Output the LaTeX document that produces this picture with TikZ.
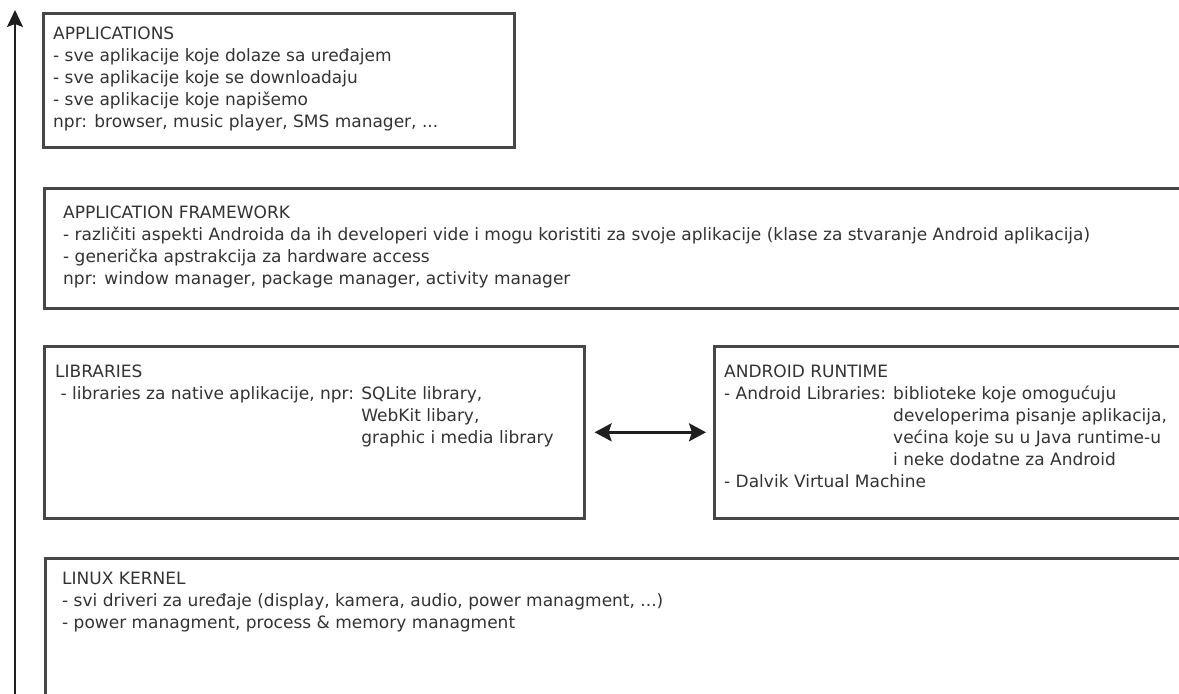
\documentclass[tikz,border=0pt]{standalone}
\usepackage{fontspec}
\setmainfont{DejaVu Sans}
\usetikzlibrary{arrows.meta}
\begin{document}
\begin{tikzpicture}[x=1pt,y=-1pt,
  layer/.style={draw=black!72, line width=2.6pt, inner sep=0pt, anchor=north west},
  txt/.style={anchor=base west, inner sep=0pt, text=black!80, font=\fontsize{17}{22}\selectfont},
  uparrow/.style={draw=black!88, line width=2pt, -{Stealth[length=17pt,width=16pt,inset=3pt]}},
  biarrow/.style={draw=black!88, line width=2.6pt, {Stealth[length=17pt,width=18pt,inset=3pt]}-{Stealth[length=17pt,width=18pt,inset=3pt]}}]
\useasboundingbox (0,0) rectangle (1179,694);
\clip (0,0) rectangle (1179,694);
\fill[white] (0,0) rectangle (1179,694);

% layer boxes
\node[layer, minimum width=471pt, minimum height=134pt] (apps) at (42,12) {};
\node[layer, minimum width=1152pt, minimum height=120pt] (fw) at (43,187) {};
\node[layer, minimum width=540pt, minimum height=172pt] (lib) at (43,345) {};
\node[layer, minimum width=482pt, minimum height=172pt] (rt) at (713,345) {};
\node[layer, minimum width=1151pt, minimum height=170pt] (lk) at (44,557) {};

% texts
\node[txt] (appsT) at (53,39) {\begin{tabular}[t]{@{}l@{}}
APPLICATIONS\\
- sve aplikacije koje dolaze sa uređajem\\
- sve aplikacije koje se downloadaju\\
- sve aplikacije koje napišemo\\
npr: browser, music player, SMS manager, ...
\end{tabular}};

\node[txt] (fwT) at (63,218) {\begin{tabular}[t]{@{}l@{}}
APPLICATION FRAMEWORK\\
- različiti aspekti Androida da ih developeri vide i mogu koristiti za svoje aplikacije (klase za stvaranje Android aplikacija)\\
- generička apstrakcija za hardware access\\
npr: window manager, package manager, activity manager
\end{tabular}};

\node[txt] (libT) at (55,377) {\begin{tabular}[t]{@{}l@{}}
LIBRARIES\\
\ - libraries za native aplikacije, npr: SQLite library,\\
\hphantom{\ - libraries za native aplikacije, npr: }WebKit libary,\\
\hphantom{\ - libraries za native aplikacije, npr: }graphic i media library
\end{tabular}};

\node[txt] (rtT) at (724,377) {\begin{tabular}[t]{@{}l@{}}
ANDROID RUNTIME\\
- Android Libraries: biblioteke koje omogućuju\\
\hphantom{- Android Libraries: }developerima pisanje aplikacija,\\
\hphantom{- Android Libraries: }većina koje su u Java runtime-u\\
\hphantom{- Android Libraries: }i neke dodatne za Android\\
- Dalvik Virtual Machine
\end{tabular}};

\node[txt] (lkT) at (62,584) {\begin{tabular}[t]{@{}l@{}}
LINUX KERNEL\\
- svi driveri za uređaje (display, kamera, audio, power managment, ...)\\
- power managment, process \& memory managment
\end{tabular}};

% arrows
\coordinate (abot) at (15,700);
\coordinate (atop) at (15,10);
\draw[uparrow] (abot) -- (atop);
\draw[biarrow] ([xshift=9pt]lib.east) -- ([xshift=-7pt]rt.west);
\end{tikzpicture}
\end{document}
